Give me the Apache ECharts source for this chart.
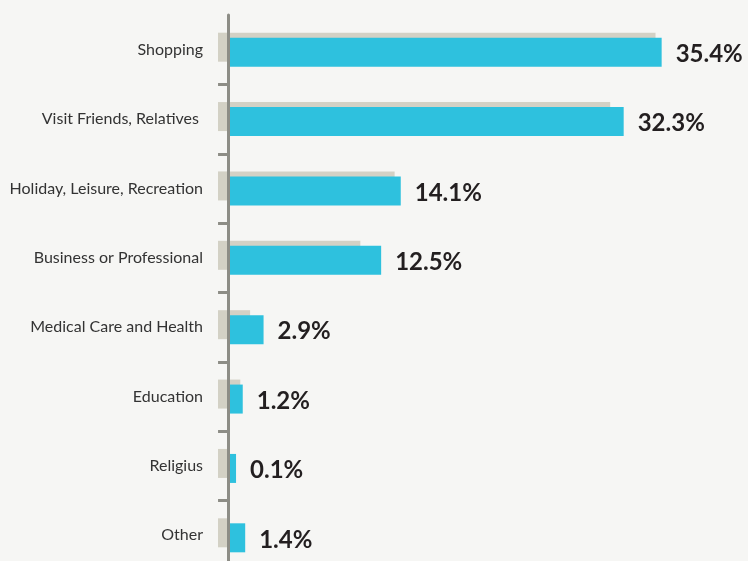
<!DOCTYPE html>
<html>
<head>
<meta charset="utf-8">
<script src="https://cdn.jsdelivr.net/npm/echarts@6/dist/echarts.min.js"></script>
<style>
  html, body { margin: 0; padding: 0; background: #f6f6f4; overflow: hidden; }
  /* the last band runs a few pixels past the visible page edge */
  #chart { width: 748px; height: 570px; }
</style>
</head>
<body>
<div id="chart"></div>
<script>
// Trip purposes, top to bottom
const categories = [
  'Shopping',
  'Visit Friends, Relatives ',
  'Holiday, Leisure, Recreation',
  'Business or Professional',
  'Medical Care and Health',
  'Education',
  'Religius',
  'Other'
];
// Current share of trips (%), labelled
const currentShare = [35.4, 32.3, 14.1, 12.5, 2.9, 1.2, 0.1, 1.4];
// Comparison share (%), drawn as the grey bar behind
const previousShare = [34.9, 31.2, 13.6, 10.8, 1.8, 1.0, 0.0, 0.0];

// The grey bars start a little left of the axis line
const GREY_LEAD = 0.82;

const BLUE = '#2ec1de';
const GREY = '#d3d1c5';
const AXIS = '#8d8d86';

const chart = echarts.init(document.getElementById('chart'), null, { renderer: 'canvas' });

chart.setOption({
  backgroundColor: '#f6f6f4',
  animation: false,
  grid: { left: 218, right: 30, top: 15, bottom: 0, containLabel: false },
  xAxis: {
    type: 'value',
    min: -GREY_LEAD,
    max: 40,
    show: false,
    splitLine: { show: false }
  },
  yAxis: {
    type: 'category',
    data: categories,
    inverse: true,
    z: 10,
    axisLine: { show: true, onZero: true, lineStyle: { color: AXIS, width: 3 } },
    axisTick: {
      show: true,
      length: 10,
      interval: function (index) { return index !== 0; },
      lineStyle: { color: AXIS, width: 3 }
    },
    axisLabel: {
      margin: 15,
      color: '#333333',
      fontFamily: 'Lato',
      fontSize: 16
    }
  },
  series: [
    {
      name: 'lead',
      type: 'bar',
      stack: 'grey',
      data: categories.map(() => -GREY_LEAD),
      barWidth: 29,
      barGap: '-82.76%',
      itemStyle: { color: GREY },
      z: 1,
      silent: true
    },
    {
      name: 'previous',
      type: 'bar',
      stack: 'grey',
      data: previousShare,
      barWidth: 29,
      barGap: '-82.76%',
      itemStyle: { color: GREY },
      z: 1,
      silent: true
    },
    {
      name: 'current',
      type: 'bar',
      data: currentShare,
      barWidth: 29,
      barGap: '-82.76%',
      barMinHeight: 8,
      itemStyle: { color: BLUE },
      z: 2,
      label: {
        show: true,
        position: 'right',
        distance: 14,
        offset: [0, 2],
        formatter: p => p.value.toFixed(1) + '%',
        color: '#231f20',
        fontFamily: 'Lato',
        fontWeight: 'bold',
        fontSize: 24
      }
    }
  ]
});
</script>
</body>
</html>
